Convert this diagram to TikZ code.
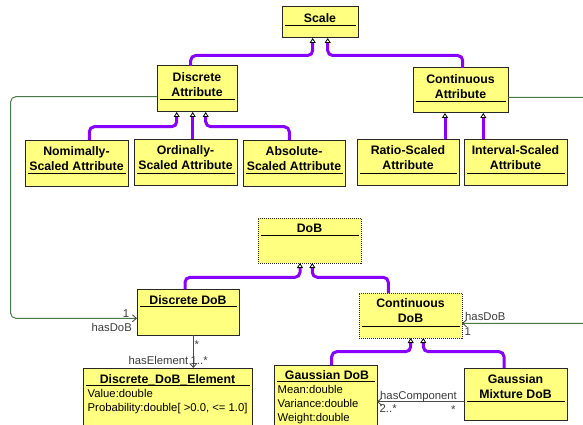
\documentclass[tikz,border=0pt]{standalone}
\usepackage{fontspec}
\setmainfont{Liberation Sans}
\usetikzlibrary{arrows.meta}
\definecolor{ylw}{RGB}{255,255,128}
\definecolor{genpurple}{RGB}{136,0,255}
\definecolor{assocgreen}{RGB}{72,120,72}
\definecolor{lblgray}{RGB}{60,60,60}
\definecolor{boxline}{RGB}{40,40,40}
\newcommand\compsep[2]{\draw[sepline] ([xshift=3pt,yshift=-#2pt]#1.north west) -- ([xshift=-2pt,yshift=-#2pt]#1.north east);}
\begin{document}
\begin{tikzpicture}[x=1pt,y=-1pt,
  box/.style={draw=boxline, fill=ylw, line width=1pt, inner sep=0pt, outer sep=0pt, anchor=north west},
  abstractbox/.style={box, densely dotted},
  sepline/.style={draw=black, line width=0.8pt},
  ttl/.style={font=\fontsize{12.3}{15}\selectfont\bfseries, align=center, inner sep=0pt, text depth=0pt},
  attr/.style={font=\fontsize{11.3}{14}\selectfont, anchor=base west, inner sep=0pt},
  lbl/.style={font=\fontsize{11.3}{14}\selectfont, text=lblgray, inner sep=0pt},
  gen/.style={draw=genpurple, line width=3pt, rounded corners=5pt,
    -{Triangle[length=5pt, width=6pt, line width=0.8pt, color=black, fill=white]}},
  assoc/.style={draw=assocgreen, line width=1pt, rounded corners=5pt,
    -{Straight Barb[length=4pt, width=7pt, line width=0.8pt, color=black!75]}},
  assocb/.style={draw=black!70, line width=0.9pt,
    -{Straight Barb[length=4pt, width=7pt, line width=0.8pt, color=black!75]}}
]
\useasboundingbox (0,0) rectangle (583,425);
\clip (0,0) rectangle (583,425);

% ---------- boxes ----------
\node[box, minimum width=76pt, minimum height=31pt] (scale) at (282,7) {};
\node[box, minimum width=80pt, minimum height=46pt] (da) at (157,66) {};
\node[box, minimum width=95pt, minimum height=45pt] (ca) at (413,68) {};
\node[box, minimum width=103pt, minimum height=46pt] (nom) at (25,140) {};
\node[box, minimum width=103pt, minimum height=46pt] (ord) at (134,139) {};
\node[box, minimum width=102pt, minimum height=46pt] (abs) at (243,140) {};
\node[box, minimum width=102pt, minimum height=46pt] (ratio) at (357,139) {};
\node[box, minimum width=103pt, minimum height=46pt] (interval) at (464,139) {};
\node[abstractbox, minimum width=103pt, minimum height=45pt] (dob) at (258,218) {};
\node[box, minimum width=102pt, minimum height=46pt] (ddob) at (137,289) {};
\node[abstractbox, minimum width=103pt, minimum height=45pt] (cdob) at (359,293) {};
\node[box, minimum width=169pt, minimum height=70pt] (elem) at (83,368) {};
\node[box, minimum width=103pt, minimum height=70pt] (gdob) at (274,365) {};
\node[box, minimum width=103pt, minimum height=52pt] (gmix) at (464,368) {};

% ---------- separators ----------
\compsep{scale}{18}
\compsep{da}{33}
\compsep{ca}{33}
\compsep{nom}{33}
\compsep{ord}{34.5}
\compsep{abs}{33.5}
\compsep{ratio}{34}
\compsep{interval}{34}
\compsep{dob}{17}
\compsep{ddob}{17.5}
\compsep{cdob}{33.5}
\compsep{elem}{17.5}
\compsep{gdob}{16.5}
\compsep{gmix}{33.5}

% ---------- titles ----------
\node[ttl] (scale-t) at ([yshift=-11.3pt]scale.north) {Scale};
\node[ttl] (da-t) at ([yshift=-18.5pt]da.north) {Discrete\\Attribute};
\node[ttl] (ca-t) at ([yshift=-18.2pt]ca.north) {Continuous\\Attribute};
\node[ttl] (nom-t) at ([yshift=-18.7pt]nom.north) {Nomimally-\\Scaled Attribute};
\node[ttl] (ord-t) at ([yshift=-18.5pt]ord.north) {Ordinally-\\Scaled Attribute};
\node[ttl] (abs-t) at ([yshift=-18.7pt]abs.north) {Absolute-\\Scaled Attribute};
\node[ttl] (ratio-t) at ([yshift=-18.5pt]ratio.north) {Ratio-Scaled\\Attribute};
\node[ttl] (interval-t) at ([yshift=-18.5pt]interval.north) {Interval-Scaled\\Attribute};
\node[ttl] (dob-t) at ([yshift=-10.3pt]dob.north) {DoB};
\node[ttl] (ddob-t) at ([yshift=-11pt]ddob.north) {Discrete DoB};
\node[ttl] (cdob-t) at ([yshift=-17.8pt]cdob.north) {Continuous\\DoB};
\node[ttl] (elem-t) at ([yshift=-11.3pt]elem.north) {Discrete\_DoB\_Element};
\node[ttl] (gdob-t) at ([xshift=1.5pt,yshift=-10pt]gdob.north) {Gaussian DoB};
\node[ttl] (gmix-t) at ([yshift=-19pt]gmix.north) {Gaussian\\Mixture DoB};

% ---------- attributes ----------
\node[attr] (elem-a1) at ([xshift=4.5pt,yshift=-29.5pt]elem.north west) {Value:double};
\node[attr] (elem-a2) at ([xshift=4.5pt,yshift=-43.5pt]elem.north west) {Probability:double[ >0.0, <= 1.0]};
\node[attr] (gdob-a1) at ([xshift=3.5pt,yshift=-28pt]gdob.north west) {Mean:double};
\node[attr] (gdob-a2) at ([xshift=3.5pt,yshift=-42.5pt]gdob.north west) {Variance:double};
\node[attr] (gdob-a3) at ([xshift=3.5pt,yshift=-56.5pt]gdob.north west) {Weight:double};

% ---------- generalizations ----------
\draw[gen] ([xshift=33.7pt]da.north west) |- ([xshift=30.7pt,yshift=-17.5pt]scale.south west) -- ([xshift=30.7pt]scale.south west);
\draw[gen] ([xshift=49.7pt]ca.north west) |- ([xshift=45.7pt,yshift=-17.5pt]scale.south west) -- ([xshift=45.7pt]scale.south west);
\draw[gen] ([xshift=64.3pt]nom.north west) |- ([xshift=19.7pt,yshift=-14.7pt]da.south west) -- ([xshift=19.7pt]da.south west);
\draw[gen] ([xshift=58.7pt]ord.north west) -- ([xshift=58.7pt]ord.north west |- da.south);
\draw[gen] ([xshift=46.3pt]abs.north west) |- ([xshift=48.7pt,yshift=-14.7pt]da.south west) -- ([xshift=48.7pt]da.south west);
\draw[gen] ([xshift=88pt]ratio.north west) -- ([xshift=88pt]ratio.north west |- ca.south);
\draw[gen] ([xshift=19.3pt]interval.north west) -- ([xshift=19.3pt]interval.north west |- ca.south);
\draw[gen] ([xshift=48pt]ddob.north west) |- ([xshift=42pt,yshift=-14.3pt]dob.south west) -- ([xshift=42pt]dob.south west);
\draw[gen] ([xshift=29.3pt]cdob.north west) |- ([xshift=54.3pt,yshift=-14.3pt]dob.south west) -- ([xshift=54.3pt]dob.south west);
\draw[gen] ([xshift=57.7pt]gdob.north west) |- ([xshift=51.7pt,yshift=-13.7pt]cdob.south west) -- ([xshift=51.7pt]cdob.south west);
\draw[gen] ([xshift=40pt]gmix.north west) |- ([xshift=64.3pt,yshift=-13.7pt]cdob.south west) -- ([xshift=64.3pt]cdob.south west);

% ---------- associations ----------
\coordinate (lft) at (10.7,200);
\coordinate (rgt) at (588,200);
\draw[assoc] ([yshift=-30.7pt]da.north west) -| (lft) |- ([yshift=-29.3pt]ddob.north west);
\draw[assoc] ([yshift=-29.3pt]ca.north east) -| (rgt) |- ([yshift=-30.3pt]cdob.north east);
\draw[assocb] ([xshift=56.3pt]ddob.south west) -- ([xshift=56.3pt]ddob.south west |- elem.north);
\draw[assocb] ([yshift=-33.7pt]gmix.north west) -- ([yshift=-33.7pt]gmix.north west -| gdob.east);

% ---------- association labels ----------
\node[lbl, anchor=base] (l-one-a) at (126,317.5) {1};
\node[lbl, anchor=base east] (l-hasdob-a) at (132,331.5) {hasDoB};
\node[lbl, anchor=base west] (l-hasdob-b) at (465,320) {hasDoB};
\node[lbl, anchor=base west] (l-one-b) at (464.5,335) {1};
\node[lbl, anchor=base] (l-star-a) at (196.7,348.4) {*};
\node[lbl, anchor=base east] (l-haselem) at (188.5,364.7) {hasElement};
\node[lbl, anchor=base west] (l-mult-a) at (190.5,364.7) {1..*};
\node[lbl, anchor=base west] (l-hascomp) at (380,399) {hasComponent};
\node[lbl, anchor=base west] (l-mult-b) at (379.5,412.7) {2..*};
\node[lbl, anchor=base] (l-star-b) at (453.3,413) {*};
\end{tikzpicture}
\end{document}
